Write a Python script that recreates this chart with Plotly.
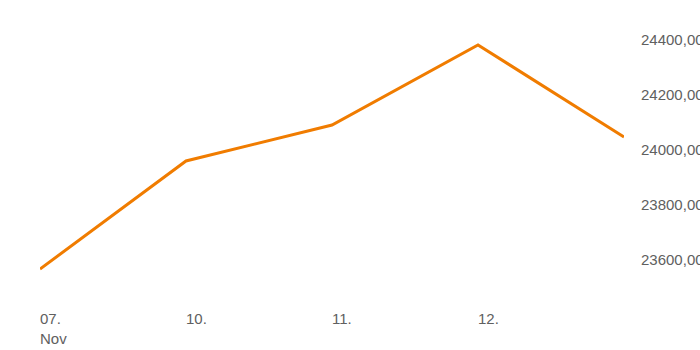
import plotly.graph_objects as go

x_idx = [0, 1, 2, 3, 4]
dates = ["07.<br>Nov", "10.", "11.", "12.", ""]
values = [23567, 23960, 24091, 24382, 24047]
y_ticks = [23600, 23800, 24000, 24200, 24400]

FONT = "Liberation Sans, Arial"
fig = go.Figure()
fig.add_trace(go.Scatter(x=x_idx, y=values, mode="lines",
                         line=dict(color="#f07c00", width=3), hoverinfo="skip"))

for xi, lab in zip(x_idx, dates):
    if lab:
        fig.add_annotation(x=xi, y=0, xref="x", yref="paper", text=lab,
                           xanchor="left", yanchor="top", align="left",
                           showarrow=False, yshift=-18, xshift=-2,
                           font=dict(family=FONT, size=15, color="#606060"))

fig.update_layout(
    width=700, height=350,
    margin=dict(l=40, r=76, t=10, b=60),
    paper_bgcolor="white", plot_bgcolor="white",
    showlegend=False,
    separators=",.",
    font=dict(family=FONT, size=15, color="#606060"),
    xaxis=dict(range=[0, 4], showgrid=False, zeroline=False, showline=False,
               showticklabels=False, ticks="", automargin=False),
    yaxis=dict(side="right", range=[23490.9, 24509.1], tickvals=y_ticks,
               tickformat=".2f", showgrid=False, zeroline=False, showline=False,
               ticks="", ticklabelstandoff=16, automargin=False),
)

fig.write_html("out.html")
